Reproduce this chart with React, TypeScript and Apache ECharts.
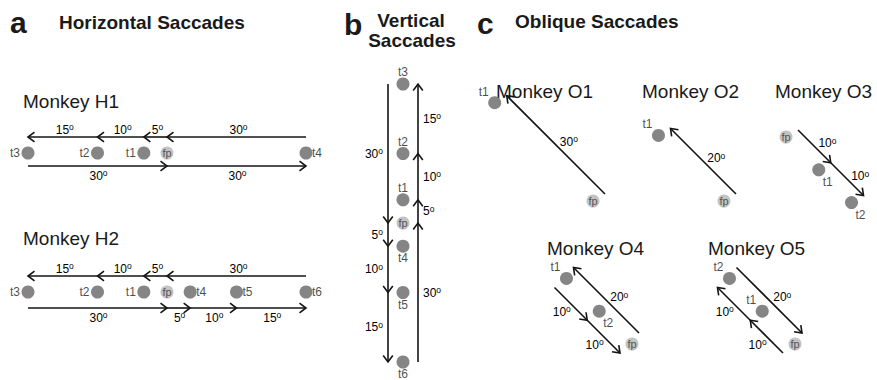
import React, { useEffect, useRef } from 'react';
import * as echarts from 'echarts';

// Scale shared by every panel: 30 degrees of eccentricity span 139 px
const PX_PER_DEG = 139 / 30;
const AXIS_PAD = 1;
const DIAG = Math.SQRT1_2;

// Horizontal saccades: target eccentricity in degrees (negative = left of fp)
const h1Targets = ['t3', 't2', 't1', 'fp', 't4'];
const h1Degrees = [-30, -15, -5, 0, 30];
const h2Targets = ['t3', 't2', 't1', 'fp', 't4', 't5', 't6'];
const h2Degrees = [-30, -15, -5, 0, 5, 15, 30];

// Vertical saccades (positive = above fp)
const vTargets = ['t3', 't2', 't1', 'fp', 't4', 't5', 't6'];
const vDegrees = [30, 15, 5, 0, -5, -15, -30];

// Oblique saccades along the 45 deg meridian (negative = up-left, positive = down-right)
const o1Targets = ['t1', 'fp'];
const o1Degrees = [-30, 0];
const o2Targets = ['t1', 'fp'];
const o2Degrees = [-20, 0];
const o3Targets = ['fp', 't1', 't2'];
const o3Degrees = [0, 10, 20];
const o4Targets = ['t1', 't2', 'fp'];
const o4Degrees = [-20, -10, 0];
const o5Targets = ['t2', 't1', 'fp'];
const o5Degrees = [-20, -10, 0];

// Saccade sequences: each list is one chain of arrows, target to target
const h1Sequences = [['t4', 'fp', 't1', 't2', 't3'], ['t3', 'fp', 't4']];
const h2Sequences = [['t6', 'fp', 't1', 't2', 't3'], ['t3', 'fp', 't4', 't5', 't6']];
const vSequences = [['t3', 'fp', 't4', 't5', 't6'], ['t6', 'fp', 't1', 't2', 't3']];
const o1Sequences = [['fp', 't1']];
const o2Sequences = [['fp', 't1']];
const o3Sequences = [['fp', 't1', 't2']];
const o4Sequences = [['fp', 't1'], ['t1', 't2', 'fp']];
const o5Sequences = [['t2', 'fp'], ['fp', 't1', 't2']];

const FONT = '"Liberation Sans", Arial, Helvetica, sans-serif';
const INK = '#1a1a1a';
const LINE = '#141414';
const TARGET_FILL = '#676767';
const FIX_FILL = '#b4b4b4';

type Meridian = 'h' | 'v' | 'o';
type LabelSide = 'above' | 'below' | 'left' | 'right' | 'ur' | 'll';
type Lane = { dx: number; dy: number; label: LabelSide };
type Tag = 'l' | 'r' | 't' | 'b' | 'tl' | 'br';
type Panel = {
  names: string[];
  degrees: number[];
  sequences: string[][];
  meridian: Meridian;
  center: [number, number];
  lanes: Lane[];
  tags: Record<string, Tag>;
};

// Arrow lanes run parallel to the targets, shifted off to one side
const UR_WIDE: Lane = { dx: 12, dy: -7, label: 'ur' };
const UR: Lane = { dx: 7, dy: -11, label: 'ur' };
const LL: Lane = { dx: -12, dy: 9, label: 'll' };

const panels: Panel[] = [
  {
    names: h1Targets, degrees: h1Degrees, sequences: h1Sequences, meridian: 'h', center: [167, 153],
    lanes: [{ dx: 0, dy: -16, label: 'above' }, { dx: 0, dy: 13, label: 'below' }],
    tags: { t3: 'l', t2: 'l', t1: 'l', t4: 'r' },
  },
  {
    names: h2Targets, degrees: h2Degrees, sequences: h2Sequences, meridian: 'h', center: [167, 292],
    lanes: [{ dx: 0, dy: -16, label: 'above' }, { dx: 0, dy: 16, label: 'below' }],
    tags: { t3: 'l', t2: 'l', t1: 'l', t4: 'r', t5: 'r', t6: 'r' },
  },
  {
    names: vTargets, degrees: vDegrees, sequences: vSequences, meridian: 'v', center: [403, 223],
    lanes: [{ dx: -15, dy: 0, label: 'left' }, { dx: 15, dy: 0, label: 'right' }],
    tags: { t3: 't', t2: 't', t1: 't', t4: 'b', t5: 'b', t6: 'b' },
  },
  { names: o1Targets, degrees: o1Degrees, sequences: o1Sequences, meridian: 'o', center: [593, 201], lanes: [UR_WIDE], tags: { t1: 'tl' } },
  { names: o2Targets, degrees: o2Degrees, sequences: o2Sequences, meridian: 'o', center: [724, 201], lanes: [UR_WIDE], tags: { t1: 'tl' } },
  { names: o3Targets, degrees: o3Degrees, sequences: o3Sequences, meridian: 'o', center: [786, 137], lanes: [UR_WIDE], tags: { t1: 'br', t2: 'br' } },
  { names: o4Targets, degrees: o4Degrees, sequences: o4Sequences, meridian: 'o', center: [632, 344], lanes: [UR, LL], tags: { t1: 'tl', t2: 'br' } },
  { names: o5Targets, degrees: o5Degrees, sequences: o5Sequences, meridian: 'o', center: [795, 344], lanes: [UR, LL], tags: { t2: 'tl', t1: 'tl' } },
];

const titles = [
  { text: 'a', x: 10, base: 33, size: 30, bold: true, align: 'left' },
  { text: 'Horizontal Saccades', x: 59, base: 29, size: 19, bold: true, align: 'left' },
  { text: 'b', x: 344, base: 35, size: 30, bold: true, align: 'left' },
  { text: 'Vertical', x: 411, base: 27, size: 19, bold: true, align: 'center' },
  { text: 'Saccades', x: 412, base: 47, size: 19, bold: true, align: 'center' },
  { text: 'c', x: 477, base: 34, size: 30, bold: true, align: 'left' },
  { text: 'Oblique Saccades', x: 515, base: 28, size: 19, bold: true, align: 'left' },
  { text: 'Monkey H1', x: 23, base: 108, size: 19, bold: false, align: 'left' },
  { text: 'Monkey H2', x: 23, base: 245, size: 19, bold: false, align: 'left' },
  { text: 'Monkey O1', x: 496, base: 98, size: 19, bold: false, align: 'left' },
  { text: 'Monkey O2', x: 642, base: 98, size: 19, bold: false, align: 'left' },
  { text: 'Monkey O3', x: 775, base: 98, size: 19, bold: false, align: 'left' },
  { text: 'Monkey O4', x: 547, base: 255, size: 19, bold: false, align: 'left' },
  { text: 'Monkey O5', x: 708, base: 255, size: 19, bold: false, align: 'left' },
];

// Degree position on a meridian -> [x, y] in degrees (y up)
function toXY(meridian: Meridian, d: number): [number, number] {
  if (meridian === 'h') return [d, 0];
  if (meridian === 'v') return [0, d];
  return [d * DIAG, -d * DIAG];
}

const tagPlacement: Record<Tag, { align: string; offset: [number, number] }> = {
  l: { align: 'right', offset: [-8, 0] },
  r: { align: 'left', offset: [6, 0] },
  t: { align: 'center', offset: [0, -12] },
  b: { align: 'center', offset: [0, 12] },
  tl: { align: 'center', offset: [-11, -11] },
  br: { align: 'center', offset: [9, 12] },
};

const degreeRich = {
  n: { fontSize: 12, lineHeight: 14, fontFamily: FONT, color: INK },
  o: { fontSize: 8.5, lineHeight: 8, fontFamily: FONT, color: INK, verticalAlign: 'top' },
};

function labelAnchor(side: LabelSide, mx: number, my: number) {
  switch (side) {
    case 'above': return { x: mx + 2, y: my - 7.5, align: 'center' };
    case 'below': return { x: mx + 1, y: my + 9.5, align: 'center' };
    case 'left': return { x: mx - 5, y: my, align: 'right' };
    case 'right': return { x: mx + 5, y: my, align: 'left' };
    case 'ur': return { x: mx + 4, y: my - 3, align: 'left' };
    default: return { x: mx, y: my + 8, align: 'right' };
  }
}

function buildOption() {
  const grid: any[] = [];
  const xAxis: any[] = [];
  const yAxis: any[] = [];
  const series: any[] = [];

  panels.forEach((p, i) => {
    const points = p.degrees.map((d) => toXY(p.meridian, d));
    const xs = points.map((q) => q[0]);
    const ys = points.map((q) => q[1]);
    const xMin = Math.min(...xs) - AXIS_PAD;
    const xMax = Math.max(...xs) + AXIS_PAD;
    const yMin = Math.min(...ys) - AXIS_PAD;
    const yMax = Math.max(...ys) + AXIS_PAD;

    grid.push({
      left: p.center[0] + xMin * PX_PER_DEG,
      top: p.center[1] - yMax * PX_PER_DEG,
      width: (xMax - xMin) * PX_PER_DEG,
      height: (yMax - yMin) * PX_PER_DEG,
      outerBoundsMode: 'none',
      containLabel: false,
    });
    xAxis.push({ type: 'value', gridIndex: i, min: xMin, max: xMax, show: false });
    yAxis.push({ type: 'value', gridIndex: i, min: yMin, max: yMax, show: false });

    const pos = (name: string) => points[p.names.indexOf(name)];

    const segments: number[][] = [];
    p.sequences.forEach((seq, lane) => {
      for (let k = 1; k < seq.length; k++) {
        const a = pos(seq[k - 1]);
        const b = pos(seq[k]);
        segments.push([a[0], a[1], b[0], b[1], lane]);
      }
    });

    series.push({
      type: 'custom',
      coordinateSystem: 'cartesian2d',
      xAxisIndex: i,
      yAxisIndex: i,
      clip: false,
      silent: true,
      z: 2,
      data: segments,
      renderItem: (_params: any, api: any) => {
        const x1 = api.value(0), y1 = api.value(1), x2 = api.value(2), y2 = api.value(3);
        const lane = p.lanes[api.value(4)];
        const p1 = api.coord([x1, y1]);
        const p2 = api.coord([x2, y2]);
        const ax = p1[0] + lane.dx, ay = p1[1] + lane.dy;
        const bx = p2[0] + lane.dx, by = p2[1] + lane.dy;
        const len = Math.hypot(bx - ax, by - ay);
        const ux = (bx - ax) / len, uy = (by - ay) / len;
        const nx = -uy, ny = ux;
        const L = 6.5, W = 4.8;
        const amplitude = Math.round(Math.hypot(x2 - x1, y2 - y1));
        const anchor = labelAnchor(lane.label, (ax + bx) / 2, (ay + by) / 2);
        return {
          type: 'group',
          children: [
            { type: 'line', shape: { x1: ax, y1: ay, x2: bx, y2: by }, style: { stroke: LINE, lineWidth: 1.6 } },
            {
              type: 'polyline',
              shape: { points: [[bx - ux * L + nx * W, by - uy * L + ny * W], [bx, by], [bx - ux * L - nx * W, by - uy * L - ny * W]] },
              style: { stroke: LINE, lineWidth: 1.6, fill: 'none', lineJoin: 'miter' },
            },
            {
              type: 'text',
              x: anchor.x,
              y: anchor.y,
              style: {
                text: `{n|${amplitude}}{o|o}`,
                rich: degreeRich,
                align: anchor.align,
                verticalAlign: 'middle',
              },
            },
          ],
        };
      },
    });

    series.push({
      type: 'scatter',
      xAxisIndex: i,
      yAxisIndex: i,
      symbolSize: 13,
      clip: false,
      silent: true,
      z: 3,
      data: p.names.map((name, k) => {
        const isFix = name === 'fp';
        const tag = p.tags[name];
        const place = tag ? tagPlacement[tag] : { align: 'center', offset: [0, 0] as [number, number] };
        return {
          name,
          value: points[k],
          itemStyle: { color: isFix ? FIX_FILL : TARGET_FILL },
          label: {
            show: true,
            formatter: '{b}',
            position: 'inside',
            align: place.align,
            verticalAlign: 'middle',
            offset: place.offset,
            fontFamily: FONT,
            fontSize: isFix ? 11 : 12,
            color: isFix ? '#333' : INK,
          },
        };
      }),
    });
  });

  const graphic = titles.map((t) => ({
    type: 'text',
    x: t.x,
    y: t.base - 0.3465 * t.size,
    silent: true,
    style: {
      text: t.text,
      fontFamily: FONT,
      fontSize: t.size,
      fontWeight: t.bold ? 'bold' : 'normal',
      fill: INK,
      align: t.align,
      verticalAlign: 'middle',
    },
  }));

  return { animation: false, backgroundColor: '#fff', grid, xAxis, yAxis, series, graphic };
}

export default function App() {
  const ref = useRef<HTMLDivElement>(null);
  useEffect(() => {
    const chart = echarts.init(ref.current!, null, { renderer: 'svg' });
    chart.setOption(buildOption() as any);
    return () => chart.dispose();
  }, []);
  return (
    <div
      ref={ref}
      style={{ position: 'fixed', left: 0, top: 0, width: 877, height: 380, background: '#fff' }}
    />
  );
}
